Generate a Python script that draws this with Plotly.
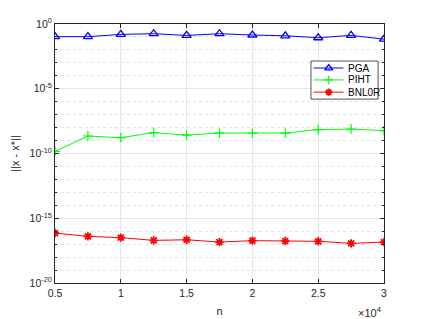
import plotly.graph_objects as go

n_vals = [5000, 7500, 10000, 12500, 15000, 17500, 20000, 22500, 25000, 27500, 30000]
pga_exp = [-0.98, -0.98, -0.80, -0.75, -0.88, -0.75, -0.85, -0.91, -1.06, -0.88, -1.17]
piht_exp = [-9.84, -8.65, -8.78, -8.39, -8.58, -8.42, -8.42, -8.42, -8.16, -8.11, -8.24]
bnl0r_exp = [-16.14, -16.40, -16.50, -16.71, -16.66, -16.84, -16.73, -16.76, -16.78, -16.94, -16.84]
series_names = ["PGA", "PIHT", "BNL0R"]

x_tickvals = [5000, 10000, 15000, 20000, 25000, 30000]
x_ticktext = ["0.5", "1", "1.5", "2", "2.5", "3"]
y_tickvals = [1e-20, 1e-15, 1e-10, 1e-5, 1]
y_ticktext = ["10<sup>-20</sup>", "10<sup>-15</sup>", "10<sup>-10</sup>", "10<sup>-5</sup>", "10<sup>0</sup>"]

pga = [10 ** e for e in pga_exp]
piht = [10 ** e for e in piht_exp]
bnl0r = [10 ** e for e in bnl0r_exp]

styles = [
    dict(color="#0000FF", symbol="triangle-up-open", size=8, lw=1.3),
    dict(color="#00FF00", symbol="cross-thin-open", size=7, lw=1.2),
    dict(color="#FF0000", symbol="asterisk-open", size=7, lw=1.8),
]

fig = go.Figure()
for name, ys, st in zip(series_names, [pga, piht, bnl0r], styles):
    fig.add_trace(go.Scatter(x=n_vals, y=ys, name=name, mode="lines+markers", showlegend=False,
                             line=dict(color=st["color"], width=1),
                             marker=dict(symbol=st["symbol"], size=st["size"], color=st["color"],
                                         line=dict(width=st["lw"], color=st["color"]))))

# custom compact legend on an overlay axis (0..1 coordinates of the plot area)
bx0, bx1, by0, by1 = 0.778, 0.982, 0.710, 0.857
fig.add_trace(go.Scatter(x=[bx0, bx1, bx1, bx0, bx0], y=[by0, by0, by1, by1, by0], xaxis="x2", yaxis="y2",
                         mode="lines", fill="toself", fillcolor="white",
                         line=dict(color="#262626", width=0.8), showlegend=False, hoverinfo="skip"))
row_y = [0.830, 0.784, 0.737]
for name, st, ry in zip(series_names, styles, row_y):
    fig.add_trace(go.Scatter(x=[0.786, 0.877], y=[ry, ry], xaxis="x2", yaxis="y2", mode="lines",
                             line=dict(color=st["color"], width=1), showlegend=False, hoverinfo="skip"))
    fig.add_trace(go.Scatter(x=[0.832], y=[ry], xaxis="x2", yaxis="y2", mode="markers",
                             marker=dict(symbol=st["symbol"], size=st["size"] - 1, color=st["color"],
                                         line=dict(width=st["lw"], color=st["color"])),
                             showlegend=False, hoverinfo="skip"))
    fig.add_annotation(x=0.884, y=ry, xref="x2", yref="y2", text=name, showarrow=False,
                       xanchor="left", yanchor="middle",
                       font=dict(family="Liberation Sans, Arial", size=10, color="#000000"))

axis_common = dict(showline=True, linecolor="#262626", linewidth=1, mirror="ticks",
                   ticks="inside", ticklen=4, tickcolor="#262626", automargin=False,
                   gridcolor="#E6E6E6", gridwidth=1, zeroline=False,
                   tickfont=dict(family="Liberation Sans, Arial", size=10.5, color="#262626"))

fig.update_layout(
    xaxis=dict(range=[5000, 30000], tickmode="array", tickvals=x_tickvals, ticktext=x_ticktext,
               showgrid=True, title=dict(text="n", font=dict(size=11, color="#262626"), standoff=9),
               **axis_common),
    yaxis=dict(type="log", range=[-20, 0], tickmode="array", tickvals=y_tickvals, ticktext=y_ticktext,
               showgrid=True, title=dict(text="||x - x*||", font=dict(size=11, color="#262626"), standoff=7),
               minor=dict(tickmode="array", tickvals=[10 ** (-k) for k in range(1, 20) if k % 5 != 0],
                          showgrid=True, gridcolor="#E3E3E3", griddash="dot", ticks="inside",
                          ticklen=2, tickcolor="#262626"),
               **axis_common),
    xaxis2=dict(overlaying="x", range=[0, 1], visible=False, fixedrange=True),
    yaxis2=dict(overlaying="y", range=[0, 1], visible=False, fixedrange=True),
)

fig.add_annotation(x=1.0, y=0, xref="paper", yref="paper", text="×10<sup>4</sup>",
                   showarrow=False, xanchor="right", yanchor="top", yshift=-20, xshift=0,
                   font=dict(family="Liberation Sans, Arial", size=11, color="#262626"))

# page body has an 8px margin: size the figure to the visible area
fig.update_layout(width=417, height=311, margin=dict(l=47, r=41, t=16, b=36),
                  plot_bgcolor="white", paper_bgcolor="white", showlegend=False,
                  font=dict(family="Liberation Sans, Arial", size=11, color="#262626"))

fig.write_html("out.html")
